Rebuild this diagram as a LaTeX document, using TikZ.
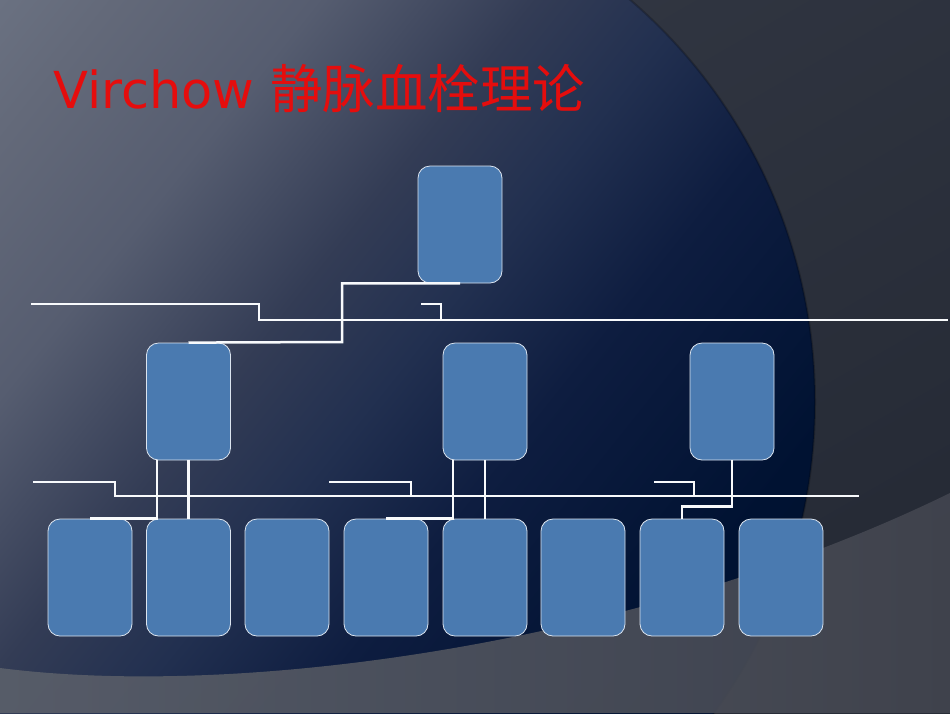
\documentclass[tikz,border=0pt]{standalone}
\usepackage{fontspec}
\setmainfont{DejaVu Sans}
\newfontfamily\cjk{Noto Sans CJK SC}
\definecolor{boxblue}{HTML}{4A7AB0}
\definecolor{titlered}{HTML}{E50D0D}
\definecolor{bgslate}{HTML}{333844}
\definecolor{bgslatedk}{HTML}{252A35}
\definecolor{bandl}{HTML}{5A5F6A}
\definecolor{bandr}{HTML}{42454F}
\definecolor{bga}{HTML}{6A7181}
\definecolor{bgb}{HTML}{636979}
\definecolor{bgc}{HTML}{565D70}
\definecolor{bgd}{HTML}{333C55}
\definecolor{bge}{HTML}{223050}
\definecolor{bgf}{HTML}{0E1D40}
\definecolor{bgg}{HTML}{001232}
\definecolor{bgh}{HTML}{00102C}
\pgfdeclarehorizontalshading{bgshade}{100bp}{color(0bp)=(bga); color(25bp)=(bga); color(28.8bp)=(bgb); color(35.4bp)=(bgc); color(42.6bp)=(bgd); color(47.7bp)=(bge); color(53.7bp)=(bgf); color(63.2bp)=(bgg); color(75bp)=(bgh); color(100bp)=(bgh)}
\begin{document}
\begin{tikzpicture}[x=1pt, y=-1pt, line cap=round, line join=round]
	\tikzset{box style/.style={draw=white!80!boxblue, line width=0.8pt, fill=boxblue, rounded corners=12pt, minimum width=84pt, minimum height=117pt, inner sep=0pt},
		line style/.style={draw=white!96!boxblue, line width=2.5pt, line cap=butt, line join=miter}}
	\useasboundingbox (0,0) rectangle (950,713);
	% background
	\shade[top color=bgslate, bottom color=bgslatedk, shading angle=30] (0,0) rectangle (950,713);
	\begin{scope}
		\clip (285,402) circle (530pt);
		\begin{scope}[transform canvas={rotate around={-38.66:(0,0)}}]
			\shade[shading=bgshade] (0,-600) rectangle (1190,560);
		\end{scope}
	\end{scope}
	\draw[black, opacity=0.22, line width=2pt] (285,402) circle (530pt);
	\shade[left color=bandl, right color=bandr, opacity=0.92] (0,668) .. controls (250,700) and (650,640) .. (950,493) -- (950,713) -- (0,713) -- cycle;
	% title
	\node[anchor=base west, inner sep=0pt, text=titlered, font=\fontsize{51}{60}\selectfont] (title) at (53,108) {Virchow {\cjk\fontsize{52.5}{60}\selectfont 静脉血栓理论}};
	% boxes
	\node[box style] (root) at (460,224.5) {};
	\node[box style] (ma) at (188.5,401.5) {};
	\node[box style] (mb) at (485,401.5) {};
	\node[box style] (mc) at (732,401.5) {};
	\node[box style] (b1) at (90,577.5) {};
	\node[box style] (b2) at (188.5,577.5) {};
	\node[box style] (b3) at (287,577.5) {};
	\node[box style] (b4) at (386,577.5) {};
	\node[box style] (b5) at (485,577.5) {};
	\node[box style] (b6) at (583,577.5) {};
	\node[box style] (b7) at (682,577.5) {};
	\node[box style] (b8) at (781,577.5) {};
	% connectors
	\draw[line style] (root.south) -| (342,342) -- (ma.north);
	\draw[line style] (31,304) -| (259,320) -- (948,320);
	\draw[line style] (421,304) -| (441,320);
	\draw[line style] (33,482) -| (115,496) -- (859,496);
	\draw[line style] (329,482) -| (411,496);
	\draw[line style] (654,482) -| (694,496);
	\draw[line style] ([xshift=-31.5pt]ma.south) |- (b1.north);
	\draw[line style] (ma.south) -- (b2.north);
	\draw[line style] ([xshift=-32pt]mb.south) |- (b4.north);
	\draw[line style] (mb.south) -- (b5.north);
	\draw[line style] (mc.south) |- ([yshift=12pt]b7.north) -- (b7.north);
\end{tikzpicture}
\end{document}
